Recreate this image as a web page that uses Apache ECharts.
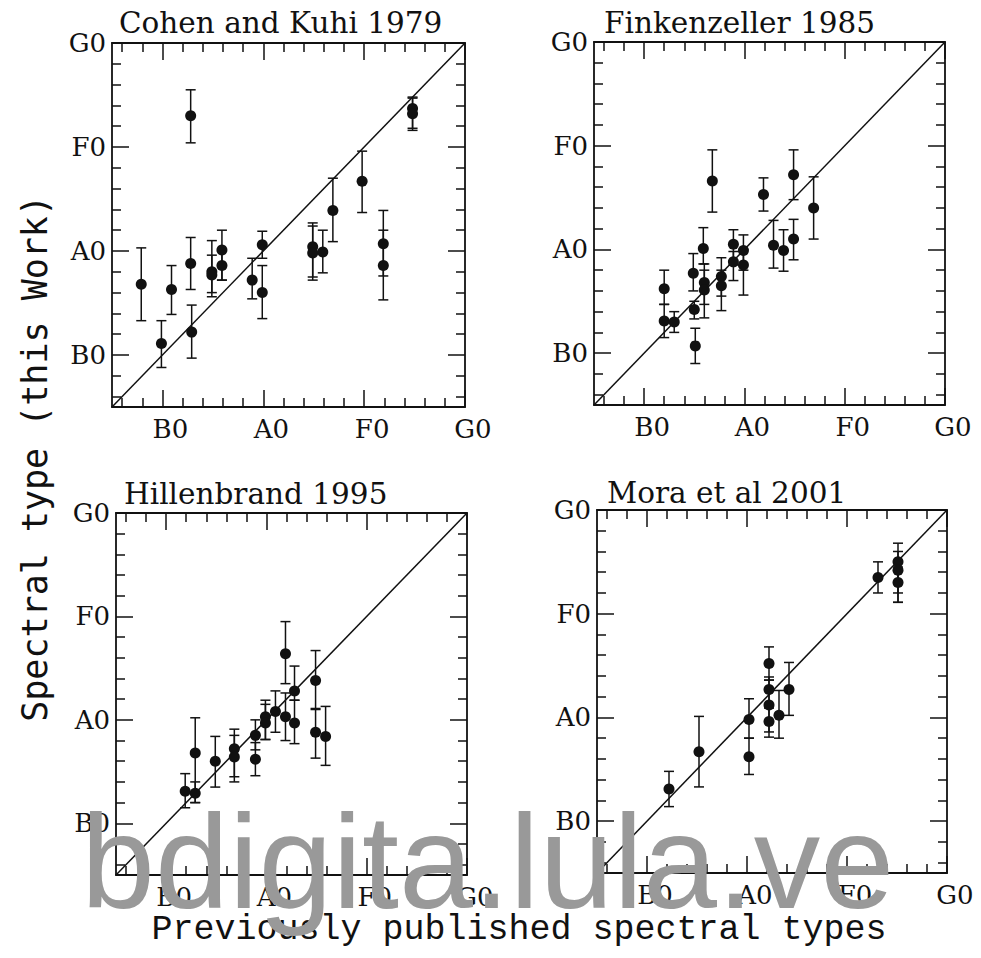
<!DOCTYPE html>
<html><head><meta charset="utf-8">
<script src="https://cdn.jsdelivr.net/npm/echarts@6/dist/echarts.min.js"></script>
<style>html,body{margin:0;padding:0;background:#fff}#c{width:981px;height:958px}</style>
</head><body><div id="c"></div>
<script>
// ---- data ----
const specTypes = ['B0', 'A0', 'F0', 'G0'];
const specValues = [0, 1, 2, 3];
const minorValues = [-0.4, -0.2, 0.2, 0.4, 0.6, 0.8, 1.2, 1.4, 1.6, 1.8, 2.2, 2.4, 2.6, 2.8];
const axisRange = [-0.5, 3];
const panelTitles = ['Cohen and Kuhi 1979', 'Finkenzeller 1985', 'Hillenbrand 1995', 'Mora et al 2001'];
const yAxisTitle = 'Spectral type (this Work)';
const xAxisTitle = 'Previously published spectral types';
const watermark = 'bdigita.lula.ve';

// [previous type, this work, lower error, upper error]
const cohenKuhi = [
  [0.28, 2.30, 2.04, 2.55], [2.48, 2.37, 2.18, 2.48], [2.48, 2.32, 2.16, 2.47],
  [-0.21, 0.68, 0.33, 1.03], [0.09, 0.63, 0.39, 0.86], [0.28, 0.88, 0.63, 1.13],
  [0.49, 0.80, 0.56, 1.10], [0.49, 0.77, 0.60, 0.96], [0.59, 1.01, 0.72, 1.20],
  [0.59, 0.86, 0.72, 1.00], [0.89, 0.72, 0.54, 0.93], [0.99, 1.06, 0.93, 1.19],
  [0.99, 0.60, 0.35, 0.86], [1.49, 1.04, 0.75, 1.27], [1.49, 0.98, 0.72, 1.24],
  [1.59, 0.99, 0.79, 1.20], [1.69, 1.39, 1.09, 1.70], [1.98, 1.67, 1.37, 1.96],
  [2.19, 1.07, 0.76, 1.39], [2.19, 0.86, 0.53, 1.20], [-0.01, 0.11, -0.12, 0.33],
  [0.29, 0.22, -0.03, 0.48]
];
const finkenzeller = [
  [0.68, 1.66, 1.36, 1.96], [1.19, 1.53, 1.37, 1.69], [1.49, 1.72, 1.48, 1.96],
  [1.69, 1.40, 1.10, 1.70], [1.29, 1.04, 0.82, 1.28], [1.39, 0.99, 0.79, 1.19],
  [1.49, 1.10, 0.90, 1.29], [0.59, 1.01, 0.86, 1.21], [0.89, 1.05, 0.85, 1.19],
  [0.89, 0.88, 0.70, 0.98], [0.99, 0.99, 0.80, 1.14], [0.99, 0.85, 0.56, 1.00],
  [0.49, 0.77, 0.60, 0.96], [0.60, 0.68, 0.47, 0.86], [0.60, 0.61, 0.34, 0.80],
  [0.77, 0.74, 0.55, 0.92], [0.77, 0.65, 0.41, 0.80], [0.20, 0.62, 0.47, 0.80],
  [0.20, 0.31, 0.15, 0.47], [0.30, 0.30, 0.20, 0.40], [0.50, 0.42, 0.33, 0.50],
  [0.51, 0.07, -0.10, 0.24]
];
const hillenbrand = [
  [1.19, 1.64, 1.35, 1.95], [1.49, 1.38, 1.10, 1.67], [1.49, 0.88, 0.63, 1.11],
  [1.28, 1.28, 1.19, 1.52], [1.28, 0.97, 0.77, 1.19], [1.19, 1.03, 0.80, 1.26],
  [1.09, 1.08, 0.88, 1.28], [0.99, 1.03, 0.81, 1.19], [0.99, 0.97, 0.81, 1.15],
  [1.59, 0.84, 0.56, 1.13], [0.89, 0.85, 0.71, 1.00], [0.89, 0.62, 0.46, 0.78],
  [0.68, 0.72, 0.40, 0.91], [0.68, 0.64, 0.45, 0.85], [0.49, 0.60, 0.35, 0.84],
  [0.29, 0.68, 0.20, 1.02], [0.19, 0.31, 0.15, 0.48], [0.29, 0.29, 0.20, 0.40]
];
const mora = [
  [2.31, 2.35, 2.20, 2.50], [2.51, 2.50, 2.11, 2.68], [2.51, 2.42, 2.20, 2.60],
  [2.51, 2.30, 2.11, 2.45], [1.22, 1.52, 1.36, 1.68], [1.22, 1.27, 1.09, 1.39],
  [1.22, 1.12, 0.86, 1.36], [1.22, 0.96, 0.81, 1.10], [1.32, 1.02, 0.80, 1.26],
  [1.42, 1.27, 1.02, 1.53], [1.02, 0.98, 0.80, 1.18], [1.02, 0.62, 0.45, 0.80],
  [0.52, 0.67, 0.33, 1.01], [0.22, 0.31, 0.14, 0.48]
];
const panelData = [cohenKuhi, finkenzeller, hillenbrand, mora];

// ---- layout ----
const INK = '#111111';
const grids = [
  { left: 112, top: 43, width: 353, height: 364 },
  { left: 594, top: 42, width: 351, height: 363 },
  { left: 116, top: 513, width: 351, height: 362 },
  { left: 597, top: 510, width: 350, height: 363 }
];
const titlePos = [[119, 8], [604, 8], [124, 479], [607, 478]];

const labelFmt = v => specTypes[specValues.indexOf(Math.round(v))] || '';
const tickStyle = { color: INK, width: 1.5 };
const lineStyle = { color: INK, width: 1.8 };

function makeAxes(dim, gi) {
  const base = {
    gridIndex: gi, type: 'value', min: axisRange[0], max: axisRange[1],
    splitLine: { show: false }, axisLabel: { show: false }
  };
  const pos = dim === 'x' ? ['bottom', 'top'] : ['left', 'right'];
  const lab = dim === 'x'
    ? { show: true, customValues: specValues, formatter: labelFmt, fontFamily: 'DejaVu Serif', fontSize: 26, color: INK, margin: 9, padding: [0, 0, 0, 16] }
    : { show: true, customValues: specValues, formatter: labelFmt, fontFamily: 'DejaVu Serif', fontSize: 26, color: INK, margin: 6 };
  return [
    Object.assign({}, base, { position: pos[0], axisLine: { onZero: false, lineStyle }, axisTick: { inside: true, length: 17, customValues: specValues, lineStyle: tickStyle }, axisLabel: lab }),
    Object.assign({}, base, { position: pos[0], axisLine: { show: false, onZero: false }, axisTick: { inside: true, length: 9, customValues: minorValues, lineStyle: tickStyle } }),
    Object.assign({}, base, { position: pos[1], axisLine: { onZero: false, lineStyle }, axisTick: { inside: true, length: 17, customValues: specValues, lineStyle: tickStyle } }),
    Object.assign({}, base, { position: pos[1], axisLine: { show: false, onZero: false }, axisTick: { inside: true, length: 9, customValues: minorValues, lineStyle: tickStyle } })
  ];
}

const xAxis = [], yAxis = [], series = [], title = [];
grids.forEach((g, i) => {
  xAxis.push(...makeAxes('x', i));
  yAxis.push(...makeAxes('y', i));
  title.push({
    text: panelTitles[i], left: titlePos[i][0], top: titlePos[i][1], padding: 0,
    textStyle: { fontFamily: 'DejaVu Serif', fontSize: 29.5, fontWeight: 'normal', color: INK }
  });
  const ax = 4 * i;
  series.push({
    type: 'line', xAxisIndex: ax, yAxisIndex: ax, silent: true, symbol: 'none',
    data: [[axisRange[0], axisRange[0]], [axisRange[1], axisRange[1]]],
    lineStyle: { color: INK, width: 1.5 }, z: 2
  });
  series.push({
    type: 'custom', xAxisIndex: ax, yAxisIndex: ax, silent: true, z: 3,
    data: panelData[i].map(d => [d[0], d[2], d[3]]),
    encode: { x: 0, y: [1, 2] },
    renderItem: (params, api) => {
      const x = api.value(0);
      const lo = api.coord([x, api.value(1)]);
      const hi = api.coord([x, api.value(2)]);
      const w = 5;
      const st = { stroke: INK, lineWidth: 1.5 };
      return {
        type: 'group', children: [
          { type: 'line', shape: { x1: hi[0], y1: hi[1], x2: lo[0], y2: lo[1] }, style: st },
          { type: 'line', shape: { x1: hi[0] - w, y1: hi[1], x2: hi[0] + w, y2: hi[1] }, style: st },
          { type: 'line', shape: { x1: lo[0] - w, y1: lo[1], x2: lo[0] + w, y2: lo[1] }, style: st }
        ]
      };
    }
  });
  series.push({
    type: 'scatter', xAxisIndex: ax, yAxisIndex: ax, silent: true, z: 4,
    data: panelData[i].map(d => [d[0], d[1]]),
    symbol: 'circle', symbolSize: 11, itemStyle: { color: INK, opacity: 1 }
  });
});

const chart = echarts.init(document.getElementById('c'), null, { renderer: 'svg' });
chart.setOption({
  animation: false,
  backgroundColor: '#fff',
  title, grid: grids, xAxis, yAxis, series,
  graphic: [
    { type: 'text', left: 17, top: 195, z: 100,
      style: { text: yAxisTitle, font: '35px "DejaVu Sans Mono"', fill: INK }, rotation: Math.PI / 2,
      originX: 0, originY: 0 },
    { type: 'text', x: 519, y: 930, z: 100,
      style: { text: xAxisTitle, font: '35px "Liberation Mono"', fill: INK, align: 'center', verticalAlign: 'middle' } },
    { type: 'text', x: 81, y: 862, z: 200,
      style: { text: watermark, font: '133px "Liberation Sans"', fill: '#999999', align: 'left', verticalAlign: 'middle' } }
  ]
});
</script></body></html>
